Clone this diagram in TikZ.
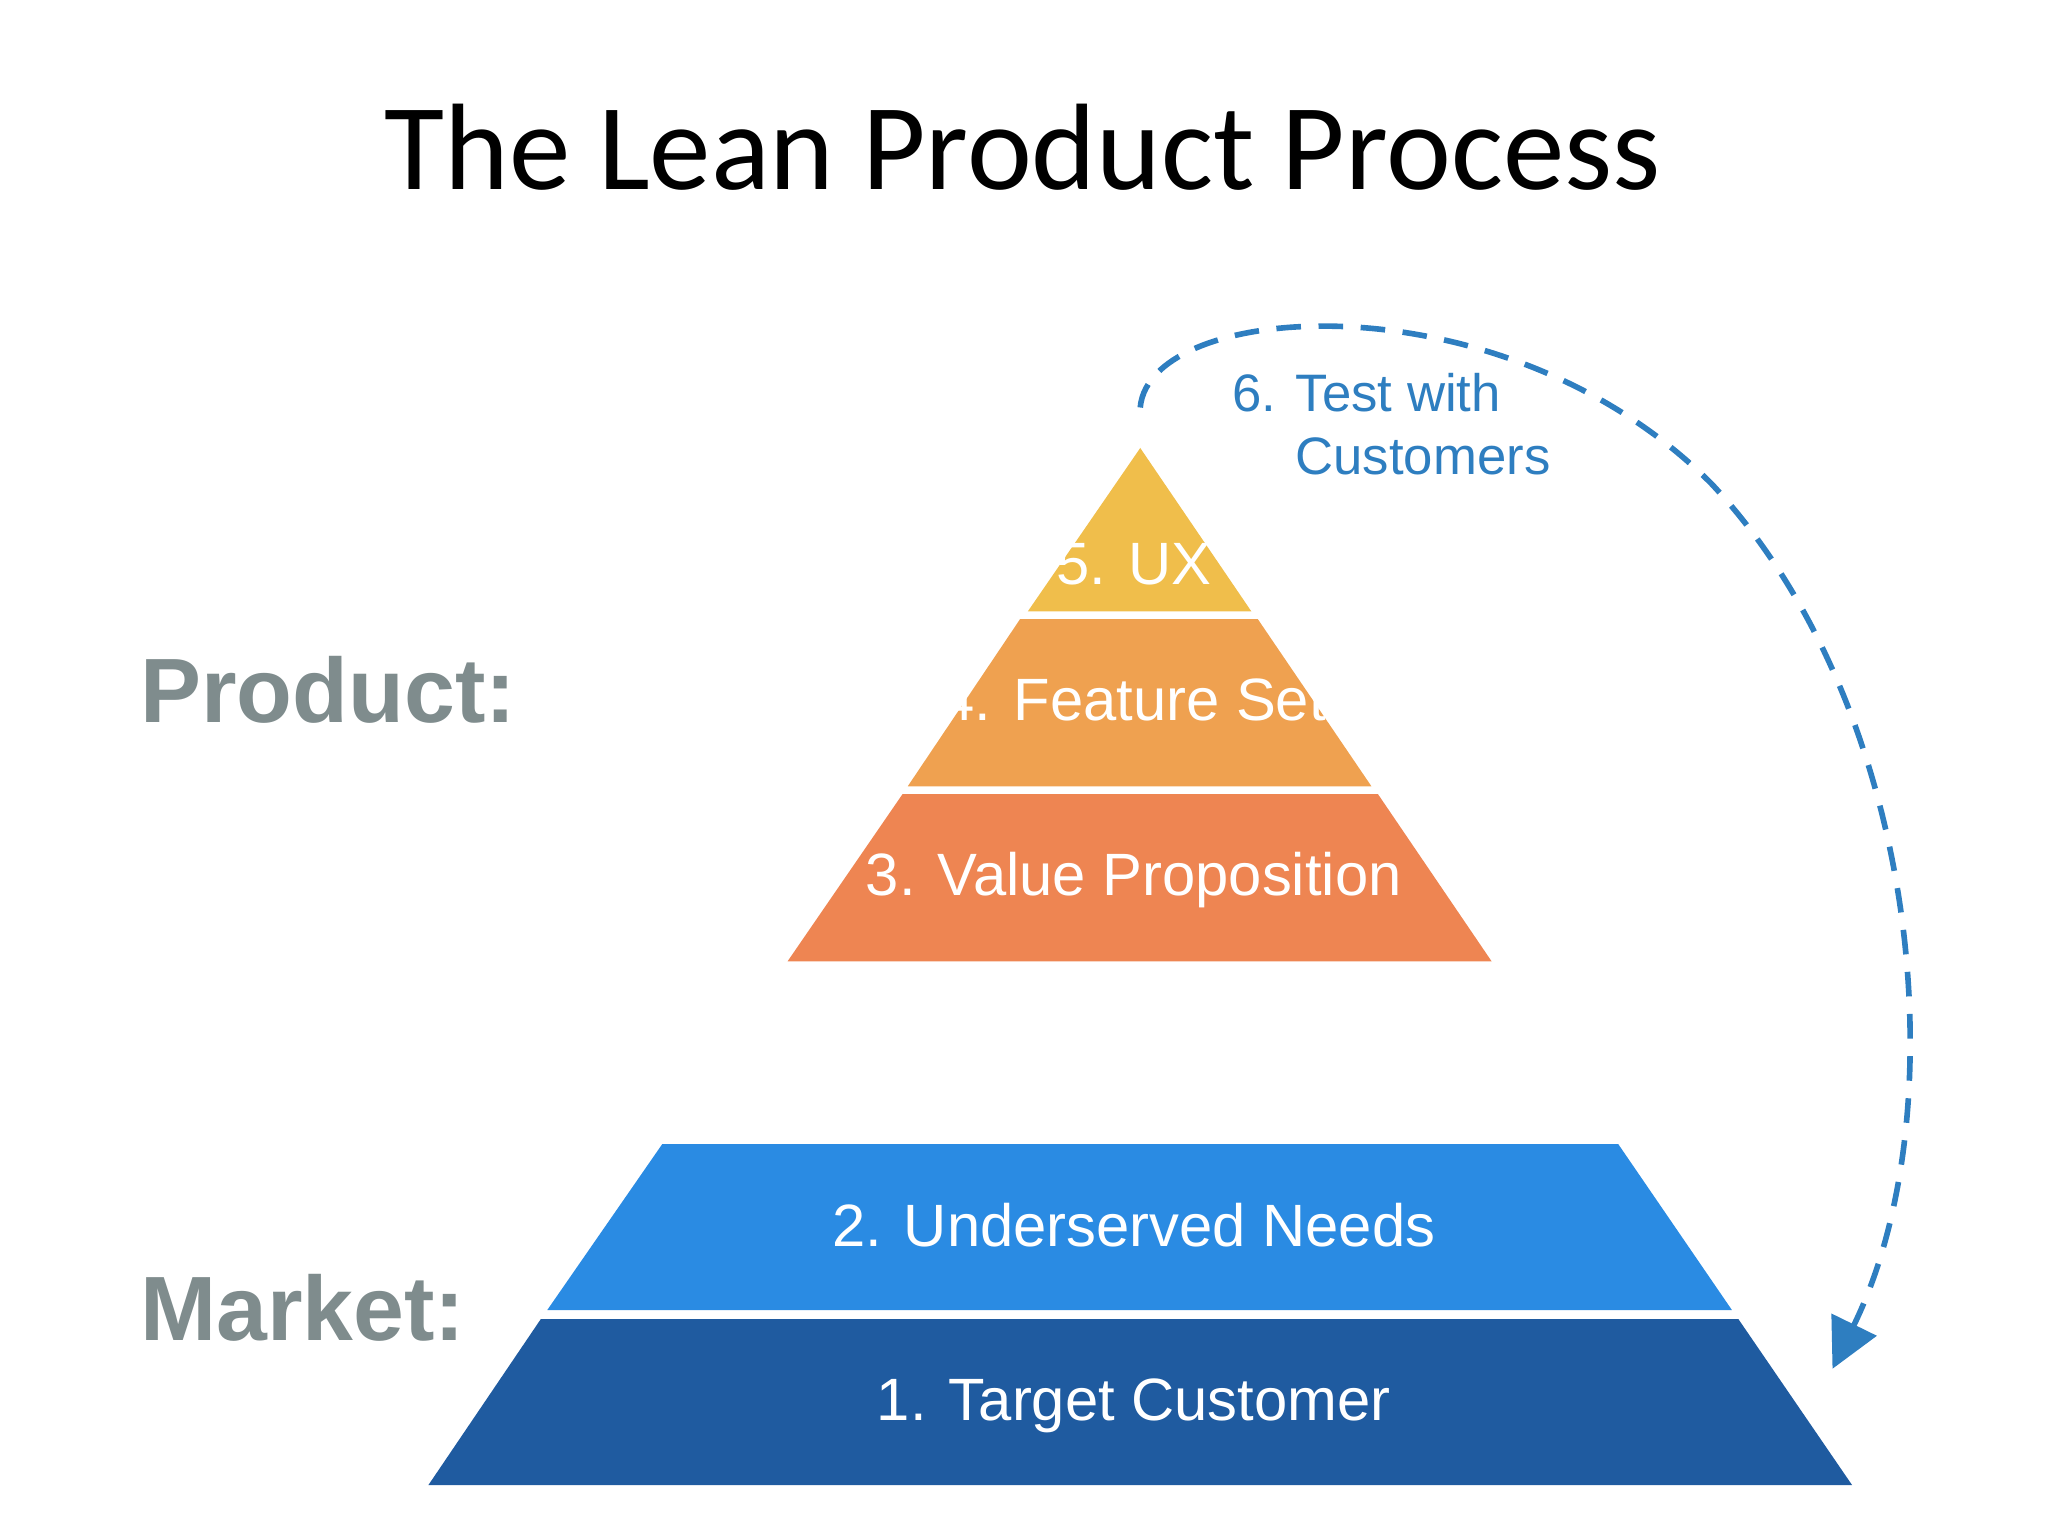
\documentclass[tikz,border=0pt]{standalone}
\usepackage{fontspec}
\setmainfont{Liberation Sans}
\newfontfamily\titlefont{Carlito}
\usetikzlibrary{positioning,arrows.meta}
\definecolor{uxcol}{HTML}{F0BE4B}
\definecolor{featcol}{HTML}{EFA150}
\definecolor{valcol}{HTML}{EE8552}
\definecolor{needcol}{HTML}{2A8BE3}
\definecolor{custcol}{HTML}{1F5BA0}
\definecolor{sidecol}{HTML}{7F8C8D}
\definecolor{testcol}{HTML}{2E7EC0}
\tikzset{
  layer/.style={text=white,font=\fontsize{17}{20}\selectfont},
  side/.style={text=sidecol,font=\fontsize{26}{30}\selectfont\bfseries,anchor=west},
}
\begin{document}
\begin{tikzpicture}[x=0.01306cm,y=-0.01306cm]
\useasboundingbox (0,0) rectangle (1568,1176);
\node (title) at (783,113) {\titlefont\fontsize{35}{40}\selectfont The Lean Product Process};
% product layers
\fill[uxcol] (873,343) -- (958,468) -- (787,468) -- cycle;
\fill[featcol] (781,474) -- (963,474) -- (1050,602) -- (695,602) -- cycle;
\fill[valcol] (691,608) -- (1055,608) -- (1142,736) -- (603,736) -- cycle;
% market layers
\fill[needcol] (507,876) -- (1239,876) -- (1326,1003) -- (419,1003) -- cycle;
\fill[custcol] (414,1010) -- (1331,1010) -- (1418,1137) -- (328,1137) -- cycle;
\node[layer] (ux) at (868,432) {5. UX};
\node[layer] (feat) at (868,536) {4. Feature Set};
\node[layer] (val) at (868,674) {3. Value Proposition};
\node[layer] (need) at (868,938) {2. Underserved Needs};
\node[layer] (cust) at (868,1076) {1. Target Customer};
\node[side] (product) at (98,528) {Product:};
\node[side] (market) at (98,1001) {Market:};
% test loop
\coordinate (start) at (873,312);
\coordinate (stop) at (1403,1048);
\draw[testcol,line width=1.6pt,dash pattern=on 7pt off 5pt,-{Triangle[length=14pt,width=14pt]}]
  (start) .. controls (880,230) and (1150,210) .. (1310,370)
  .. controls (1470,540) and (1500,850) .. (stop);
\node[text=testcol,font=\fontsize{15}{18}\selectfont,align=left,anchor=north west] (test) at (934,276) {6. Test with\\\hspace*{1.2em}Customers};
\end{tikzpicture}
\end{document}
